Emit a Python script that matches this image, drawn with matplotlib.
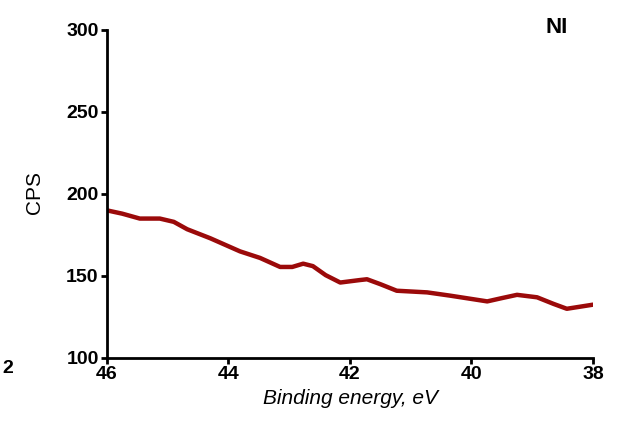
import matplotlib.pyplot as plt

# dados (energia de ligação em eV, contagens por segundo)
energia = [46.0, 45.75, 45.46, 45.13, 44.9, 44.68, 44.30, 43.81, 43.48, 43.15,
           42.95, 42.77, 42.61, 42.40, 42.16, 41.84, 41.72, 41.50, 41.23, 40.73,
           40.35, 39.74, 39.50, 39.25, 38.92, 38.65, 38.43, 38.0]
cps = [190, 188, 185, 185, 183, 178.5, 173, 165, 161, 155.5,
       155.5, 157.5, 156, 150.5, 146, 147.5, 148, 145, 141, 140,
       138, 134.5, 136.5, 138.5, 137, 133, 130, 132.5]

yticks = [100, 150, 200, 250, 300]
xticks = [46, 44, 42, 40, 38]

plt.rcParams['font.family'] = ['Liberation Sans', 'DejaVu Sans']

fig = plt.figure(figsize=(6.17, 4.28), dpi=100)
ax = fig.add_axes([0.1734, 0.1636, 0.7876, 0.7664])

ax.plot(energia, cps, color='#9b0a0a', linewidth=3.2, solid_capstyle='round',
        solid_joinstyle='round')

ax.set_xlim(46, 38)
ax.set_ylim(100, 300)
ax.set_xticks(xticks)
ax.set_yticks(yticks)

for lado in ['top', 'right']:
    ax.spines[lado].set_visible(False)
for lado in ['left', 'bottom']:
    ax.spines[lado].set_linewidth(2.0)

ax.tick_params(axis='both', direction='out', length=4, width=2.0,
               labelsize=14, pad=2)
for lbl in ax.get_xticklabels() + ax.get_yticklabels():
    lbl.set_fontweight('bold')

ax.set_xlabel('Binding energy, eV', fontsize=15, fontstyle='italic', labelpad=4)
ax.set_ylabel('CPS', fontsize=15)
ax.yaxis.set_label_coords(-0.129, 0.506)

ax.text(0.926, 1.009, 'NI', transform=ax.transAxes, fontsize=16,
        fontweight='bold', ha='center', va='center')

# fragmento do painel vizinho cortado na borda esquerda
fig.text(0.004, 0.14, '2', fontsize=14, fontweight='bold', va='center')

fig.savefig('out.png', dpi=100)
plt.close()
